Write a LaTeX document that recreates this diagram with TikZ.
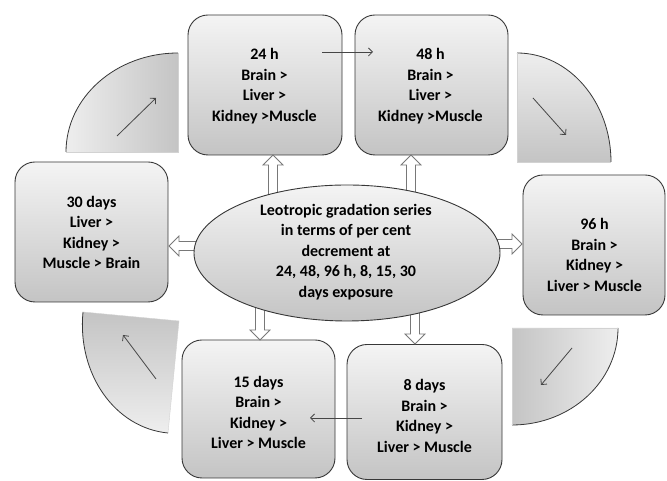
\documentclass[tikz,border=0pt]{standalone}
\usepackage{fontspec}
\setmainfont{Carlito}
\usetikzlibrary{calc,arrows.meta}
\definecolor{boxtop}{RGB}{244,244,244}
\definecolor{boxbot}{RGB}{196,196,196}
\definecolor{edge}{RGB}{55,55,55}
\definecolor{qlight}{RGB}{238,238,238}
\definecolor{qdark}{RGB}{196,196,196}
\definecolor{thin}{RGB}{70,70,70}
\definecolor{barrow}{RGB}{120,120,120}
\newcommand{\blockarr}[2]{%
  \coordinate (bh) at ($(#2)!10pt!(#1)$);
  \draw[blockarrow] ($(#1)!4.5pt!90:(#2)$) -- ($(bh)!4.5pt!-90:(#1)$) -- ($(bh)!10pt!-90:(#1)$) -- (#2) -- ($(bh)!10pt!90:(#1)$) -- ($(bh)!4.5pt!90:(#1)$) -- ($(#1)!4.5pt!-90:(#2)$) -- cycle;}
\begin{document}
\begin{tikzpicture}[x=1pt,y=1pt,
  box/.style={draw=edge, line width=0.9pt, rounded corners=20pt, top color=boxtop, bottom color=boxbot, inner sep=0pt},
  txt/.style={align=center, font=\bfseries\fontsize{16}{20.5}\selectfont, inner sep=0pt},
  blockarrow/.style={draw=barrow, fill=white, line width=0.8pt, line join=miter},
  thinarrow/.style={draw=thin, line width=0.8pt, -{Straight Barb[length=4pt,width=8pt]}},
  arcline/.style={draw=edge, line width=0.8pt},
  qedge/.style={draw=gray!35, line width=0.4pt}]
\useasboundingbox (0,0) rectangle (667,481);
\fill[white] (0,0) rectangle (667,481);

% quarter shapes
\path[left color=qlight, right color=qdark] (178,329) -- (66,329) arc[start angle=180, end angle=90, x radius=112, y radius=99] -- cycle;
\draw[arcline] (66,329) arc[start angle=180, end angle=90, x radius=112, y radius=99];
\draw[qedge] (66,329) -- (178,329) -- (178,428);

\path[top color=qlight, bottom color=qdark] (517,319) -- (517,428) arc[start angle=90, end angle=0, x radius=94, y radius=109] -- cycle;
\draw[arcline] (517,428) arc[start angle=90, end angle=0, x radius=94, y radius=109];
\draw[qedge] (517,428) -- (517,319) -- (611,319);

\path[left color=qdark, right color=qlight] (512,153) -- (618,153) arc[start angle=0, end angle=-90, x radius=106, y radius=97] -- cycle;
\draw[arcline] (618,153) arc[start angle=0, end angle=-90, x radius=106, y radius=97];
\draw[qedge] (618,153) -- (512,153) -- (512,56);

\path[top color=qdark, bottom color=qlight] (179,160) -- (83,169) .. controls (77,107) and (115,53) .. (168,48) -- cycle;
\draw[arcline] (83,169) .. controls (77,107) and (115,53) .. (168,48);
\draw[qedge] (83,169) -- (179,160) -- (168,48);

\coordinate (tlA) at (117,345); \coordinate (tlB) at (156,383);
\coordinate (trA) at (533,383); \coordinate (trB) at (566,346);
\coordinate (brA) at (572,133); \coordinate (brB) at (541,96);
\coordinate (blA) at (156,102); \coordinate (blB) at (123,146);
\draw[thinarrow] (tlA) -- (tlB);
\draw[thinarrow] (trA) -- (trB);
\draw[thinarrow] (brA) -- (brB);
\draw[thinarrow] (blA) -- (blB);

% boxes
\node[box, minimum width=154pt, minimum height=140pt] (b24) at (265,396) {};
\node[box, minimum width=153pt, minimum height=140pt] (b48) at (431.5,396) {};
\node[box, minimum width=153pt, minimum height=140pt] (b30) at (91.5,249) {};
\node[box, minimum width=142pt, minimum height=140pt] (b96) at (594,236) {};
\node[box, minimum width=153pt, minimum height=138pt] (b15) at (258.5,72) {};
\node[box, minimum width=155pt, minimum height=135pt] (b8) at (424.5,69) {};

\node[txt] (t24) at (264.5,395) {24 h\\Brain >\\Liver >\\Kidney >Muscle};
\node[txt] (t48) at (430.5,395) {48 h\\Brain >\\Liver >\\Kidney >Muscle};
\node[txt] (t30) at (91.5,248.5) {30 days\\Liver >\\Kidney >\\Muscle > Brain};
\node[txt] (t96) at (594.5,226) {96 h\\Brain >\\Kidney >\\Liver > Muscle};
\node[txt] (t15) at (258.5,68.5) {15 days\\Brain >\\Kidney >\\Liver > Muscle};
\node[txt] (t8) at (424.5,65) {8 days\\Brain >\\Kidney >\\Liver > Muscle};

% block arrows
\coordinate (u1a) at (273,284); \coordinate (u1b) at (273,326);
\coordinate (u2a) at (411,284); \coordinate (u2b) at (411,326);
\coordinate (la) at (200,235); \coordinate (lb) at (169,235);
\coordinate (ra) at (494,237); \coordinate (rb) at (522,237);
\coordinate (d1a) at (260,176); \coordinate (d1b) at (260,141);
\coordinate (d2a) at (415,172); \coordinate (d2b) at (415,137);
\blockarr{u1a}{u1b}
\blockarr{u2a}{u2b}
\blockarr{la}{lb}
\blockarr{ra}{rb}
\blockarr{d1a}{d1b}
\blockarr{d2a}{d2b}

% ellipse
\path[top color=boxtop, bottom color=boxbot, draw=edge, line width=0.9pt] (347,228) ellipse[x radius=153, y radius=68];
\node[txt] (ell) at (346,229) {Leotropic gradation series\\in terms of per cent\\decrement at\\24, 48, 96 h, 8, 15, 30\\days exposure};

% thin arrows between boxes
\coordinate (s1) at (322,429); \coordinate (e1) at (373,429);
\coordinate (s2) at (362,63); \coordinate (e2) at (310,63);
\draw[thinarrow] (s1) -- (e1);
\draw[thinarrow] (s2) -- (e2);
\end{tikzpicture}
\end{document}
